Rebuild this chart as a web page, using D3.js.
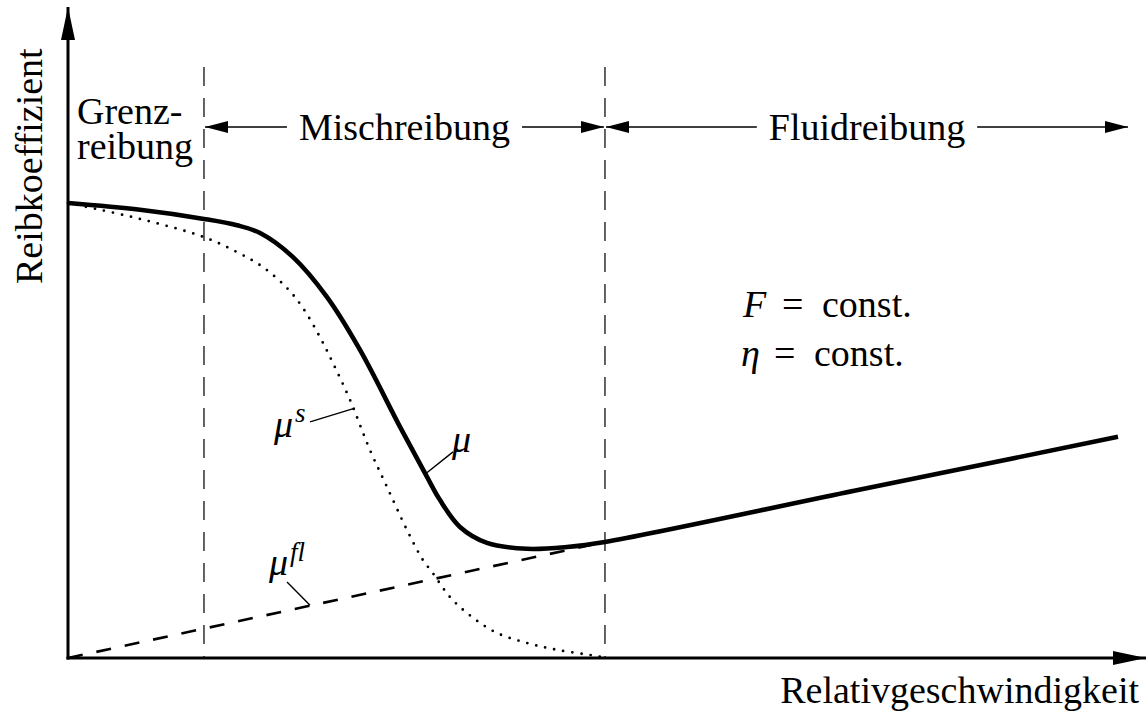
<!DOCTYPE html>
<html>
<head>
<meta charset="utf-8">
<script src="https://cdn.jsdelivr.net/npm/d3@7"></script>
<style>
  body { margin: 0; background: #fff; }
  svg { display: block; }
</style>
</head>
<body>
<svg id="chart" width="1148" height="720"></svg>
<script>
// Stribeck curve: total friction coefficient μ = μ^s (solid contact) + μ^fl (fluid)
const speedTotal = [0, 0.686, 1.295, 1.610, 1.829, 2.143, 2.467, 2.781, 3.162, 3.419, 3.543, 3.733, 3.990, 4.371, 4.752, 5.114, 7.5, 10];
const muTotal    = [1.000, 0.985, 0.965, 0.951, 0.934, 0.881, 0.793, 0.677, 0.508, 0.398, 0.347, 0.288, 0.253, 0.240, 0.244, 0.255, 0.368, 0.486];

const speedSolid = [0, 0.686, 1.295, 1.610, 1.857, 2.086, 2.238, 2.400, 2.524, 2.686, 2.876, 3.038, 3.229, 3.381, 3.467, 3.638, 3.848, 4.086, 4.371, 4.657, 5.038, 5.114];
const muSolid    = [1.000, 0.965, 0.925, 0.892, 0.859, 0.813, 0.769, 0.705, 0.648, 0.567, 0.457, 0.376, 0.281, 0.215, 0.189, 0.134, 0.090, 0.055, 0.033, 0.018, 0.004, 0.000];

const speedFluid = [0, 5.114];
const muFluid    = [0, 0.255];

// boundaries between the lubrication regimes (in speed units)
const regimeBounds = [1.295, 5.114];
const regimeNames  = ["Grenz-reibung", "Mischreibung", "Fluidreibung"];

const axisTitles = { x: "Relativgeschwindigkeit", y: "Reibkoeffizient" };

// ---------------------------------------------------------------------------
const svg = d3.select("#chart");
const serif = "Liberation Serif, Tinos, DejaVu Serif, serif";

const x = d3.scaleLinear().domain([0, 10]).range([68, 1118]);
const y = d3.scaleLinear().domain([0, 1]).range([658, 203]);

const zip = (xs, ys) => xs.map((v, i) => [v, ys[i]]);
const line = d3.line().x(d => x(d[0])).y(d => y(d[1])).curve(d3.curveCatmullRom.alpha(0.5));

// arrowheads
const defs = svg.append("defs");
defs.append("marker")
  .attr("id", "axisHead").attr("markerUnits", "userSpaceOnUse")
  .attr("viewBox", "0 -8 34 16").attr("refX", 33).attr("refY", 0)
  .attr("markerWidth", 34).attr("markerHeight", 16).attr("orient", "auto")
  .append("path").attr("d", "M0,-7L33,0L0,7Z").attr("fill", "#000");
defs.append("marker")
  .attr("id", "rangeHead").attr("markerUnits", "userSpaceOnUse")
  .attr("viewBox", "0 -7 24 14").attr("refX", 23).attr("refY", 0)
  .attr("markerWidth", 24).attr("markerHeight", 14).attr("orient", "auto")
  .append("path").attr("d", "M0,-6L23,0L0,6Z").attr("fill", "#000");

// regime boundaries
svg.append("g").selectAll("line").data(regimeBounds).join("line")
  .attr("x1", d => x(d)).attr("x2", d => x(d))
  .attr("y1", 67).attr("y2", y(0))
  .attr("stroke", "#222").attr("stroke-width", 1.4)
  .attr("stroke-dasharray", "19,12");

// curves
svg.append("path").datum(zip(speedFluid, muFluid))
  .attr("d", line).attr("fill", "none").attr("stroke", "#000")
  .attr("stroke-width", 2.6).attr("stroke-dasharray", "15,14");

svg.append("path").datum(zip(speedSolid, muSolid))
  .attr("d", line).attr("fill", "none").attr("stroke", "#000")
  .attr("stroke-width", 2.8).attr("stroke-linecap", "round")
  .attr("stroke-dasharray", "0,9.2");

svg.append("path").datum(zip(speedTotal, muTotal))
  .attr("d", line).attr("fill", "none").attr("stroke", "#000")
  .attr("stroke-width", 4.6).attr("stroke-linejoin", "round");

// axes (arrows, no ticks)
svg.append("line")
  .attr("x1", x(0)).attr("y1", y(0) + 1.5).attr("x2", x(0)).attr("y2", 7)
  .attr("stroke", "#000").attr("stroke-width", 3).attr("marker-end", "url(#axisHead)");
svg.append("line")
  .attr("x1", x(0) - 1.5).attr("y1", y(0)).attr("x2", 1146).attr("y2", y(0))
  .attr("stroke", "#000").attr("stroke-width", 3).attr("marker-end", "url(#axisHead)");

svg.append("text")
  .attr("transform", "translate(42,284) rotate(-90)")
  .attr("font-family", serif).attr("font-size", 38)
  .text(axisTitles.y);
svg.append("text")
  .attr("x", 1139).attr("y", 703).attr("text-anchor", "end")
  .attr("font-family", serif).attr("font-size", 38)
  .text(axisTitles.x);

// regime labels
const bandY = 127;
const grenz = regimeNames[0].split("-");
svg.append("text").attr("x", 77).attr("y", 124)
  .attr("font-family", serif).attr("font-size", 38).text(grenz[0] + "-");
svg.append("text").attr("x", 77).attr("y", 159)
  .attr("font-family", serif).attr("font-size", 38).text(grenz[1]);

const spans = [
  { name: regimeNames[1], left: x(regimeBounds[0]) + 1, right: x(regimeBounds[1]) - 1 },
  { name: regimeNames[2], left: x(regimeBounds[1]) + 1, right: 1128 }
];
spans.forEach(s => {
  const cx = (s.left + s.right) / 2;
  const t = svg.append("text")
    .attr("x", cx).attr("y", 140).attr("text-anchor", "middle")
    .attr("font-family", serif).attr("font-size", 38)
    .text(s.name);
  const w = t.node().getComputedTextLength();
  const gap = 12;
  svg.append("line")
    .attr("x1", cx - w / 2 - gap).attr("y1", bandY).attr("x2", s.left).attr("y2", bandY)
    .attr("stroke", "#000").attr("stroke-width", 1.4).attr("marker-end", "url(#rangeHead)");
  svg.append("line")
    .attr("x1", cx + w / 2 + gap).attr("y1", bandY).attr("x2", s.right).attr("y2", bandY)
    .attr("stroke", "#000").attr("stroke-width", 1.4).attr("marker-end", "url(#rangeHead)");
});

// operating conditions, typeset with math spacing around "="
const cond = [
  { sym: "F", xs: 743, xe: 782, xc: 822, y0: 317 },
  { sym: "η", xs: 741, xe: 774, xc: 814, y0: 366 }
];
cond.forEach(c => {
  const t = svg.append("text").attr("y", c.y0)
    .attr("font-family", serif).attr("font-size", 38);
  t.append("tspan").attr("x", c.xs).attr("font-style", "italic").text(c.sym);
  t.append("tspan").attr("x", c.xe).text("=");
  t.append("tspan").attr("x", c.xc).text("const.");
});

// curve labels with leader lines
function mathLabel(px, py, sup, supDy) {
  const t = svg.append("text").attr("x", px).attr("y", py)
    .attr("font-family", serif).attr("font-size", 38).attr("font-style", "italic");
  t.append("tspan").text("μ");
  if (sup) t.append("tspan").attr("dy", supDy).attr("dx", 2).attr("font-size", 27).text(sup);
}
function leader(a, b) {
  svg.append("line")
    .attr("x1", x(a[0])).attr("y1", y(a[1])).attr("x2", x(b[0])).attr("y2", y(b[1]))
    .attr("stroke", "#000").attr("stroke-width", 1.4);
}
mathLabel(274, 437, "s", -15);
leader([2.305, 0.519], [2.733, 0.549]);

mathLabel(452, 452, null);
leader([3.40, 0.404], [3.667, 0.453]);

mathLabel(269, 575, "fl", -14);
leader([2.086, 0.167], [2.305, 0.116]);
</script>
</body>
</html>
